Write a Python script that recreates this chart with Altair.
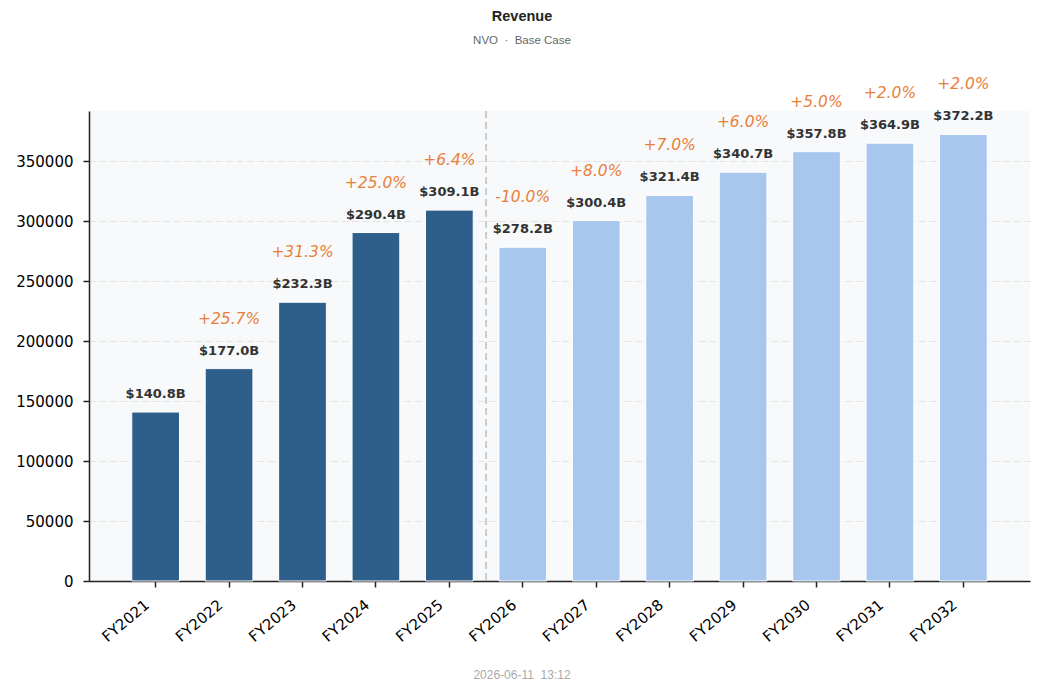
import pandas as pd
import altair as alt

# Revenue in $M, fiscal years (actual + base case projection)
years = ["FY2021", "FY2022", "FY2023", "FY2024", "FY2025", "FY2026",
         "FY2027", "FY2028", "FY2029", "FY2030", "FY2031", "FY2032"]
revenue = [140800, 177000, 232300, 290400, 309100, 278200,
           300400, 321400, 340700, 357800, 364900, 372200]
growth = [None, 25.7, 31.3, 25.0, 6.4, -10.0, 8.0, 7.0, 6.0, 5.0, 2.0, 2.0]
phase = ["Actual"] * 5 + ["Projected"] * 7

df = pd.DataFrame({"year": years, "rev": revenue, "growth": growth, "phase": phase})
df["rev_label"] = ["$%.1fB" % (v / 1000) for v in revenue]
df["g_label"] = ["" if g is None else "%+.1f%%" % g for g in growth]

W, H = 941, 470
FONT = "DejaVu Sans"
NB = "\u00a0"

x_enc = alt.X("year:N", title=None, sort=years,
              scale=alt.Scale(paddingInner=0.35, paddingOuter=0.5825),
              axis=alt.Axis(labelAngle=-40, labelAlign="right", labelBaseline="top",
                            labelOffset=-13, labelPadding=10, labelFontSize=15,
                            labelFont=FONT, labelColor="#000", tickSize=6, tickWidth=1.5,
                            tickColor="#222", domainColor="#222", domainWidth=1.5, grid=False))
y_enc = alt.Y("rev:Q", title=None,
              scale=alt.Scale(domain=[0, 391700], nice=False),
              axis=alt.Axis(values=list(range(0, 350001, 50000)), format="d",
                            labelFontSize=15, labelFont=FONT, labelColor="#000",
                            labelPadding=10, tickSize=6, tickWidth=1.5, tickColor="#222",
                            domainColor="#222", domainWidth=1.5,
                            grid=True, gridColor="#e4e4e4", gridDash=[7, 3.5], gridWidth=1))

base = alt.Chart(df)

bars = base.mark_bar(stroke="white", strokeWidth=1).encode(
    x=x_enc, y=y_enc,
    color=alt.Color("phase:N", legend=None,
                    scale=alt.Scale(domain=["Actual", "Projected"],
                                    range=["#2d5f8a", "#a7c7ef"])),
)

values = base.mark_text(font=FONT, fontSize=13, fontWeight="bold", color="#333",
                        baseline="alphabetic", dy=-14).encode(
    x=alt.X("year:N", sort=years), y="rev:Q", text="rev_label:N")

growths = base.mark_text(font=FONT, fontSize=15.5, fontStyle="italic", color="#e8803a",
                         baseline="alphabetic", dy=-45).encode(
    x=alt.X("year:N", sort=years), y="rev:Q", text="g_label:N")

# dashed divider halfway between last actual and first projected bar
divider = base.transform_filter(alt.datum.year == "FY2025").mark_rule(
    color="#cccccc", strokeWidth=2, strokeDash=[7, 4], xOffset=12.85).encode(
    x=alt.X("year:N", sort=years, bandPosition=1),
    y=alt.value(0), y2=alt.value(H))

head = pd.DataFrame({"t": ["Revenue"]})
sub = pd.DataFrame({"t": ["NVO" + NB * 2 + "\u00b7" + NB * 2 + "Base Case"]})
foot = pd.DataFrame({"t": ["2026-06-11" + NB * 2 + "13:12"]})

title = alt.Chart(head).mark_text(font="Liberation Sans", fontSize=14.5, fontWeight="bold",
                                  color="#222").encode(
    x=alt.value(433), y=alt.value(-94), text="t:N")
subtitle = alt.Chart(sub).mark_text(font="Liberation Sans", fontSize=11.5, color="#666").encode(
    x=alt.value(433), y=alt.value(-70), text="t:N")
footer = alt.Chart(foot).mark_text(font="Liberation Sans", fontSize=12, color="#aaa",
                                   baseline="alphabetic").encode(
    x=alt.value(433), y=alt.value(568), text="t:N")

chart = alt.layer(bars, divider, values, growths, title, subtitle, footer).properties(
    width=W, height=H,
    autosize=alt.AutoSizeParams(type="none"),
    padding={"left": 81, "top": 103, "right": 6, "bottom": 101},
    background="white",
).configure_view(fill="#f8f9fa", stroke=None)

chart.save("out.html", embed_options={"renderer": "svg", "actions": False})
